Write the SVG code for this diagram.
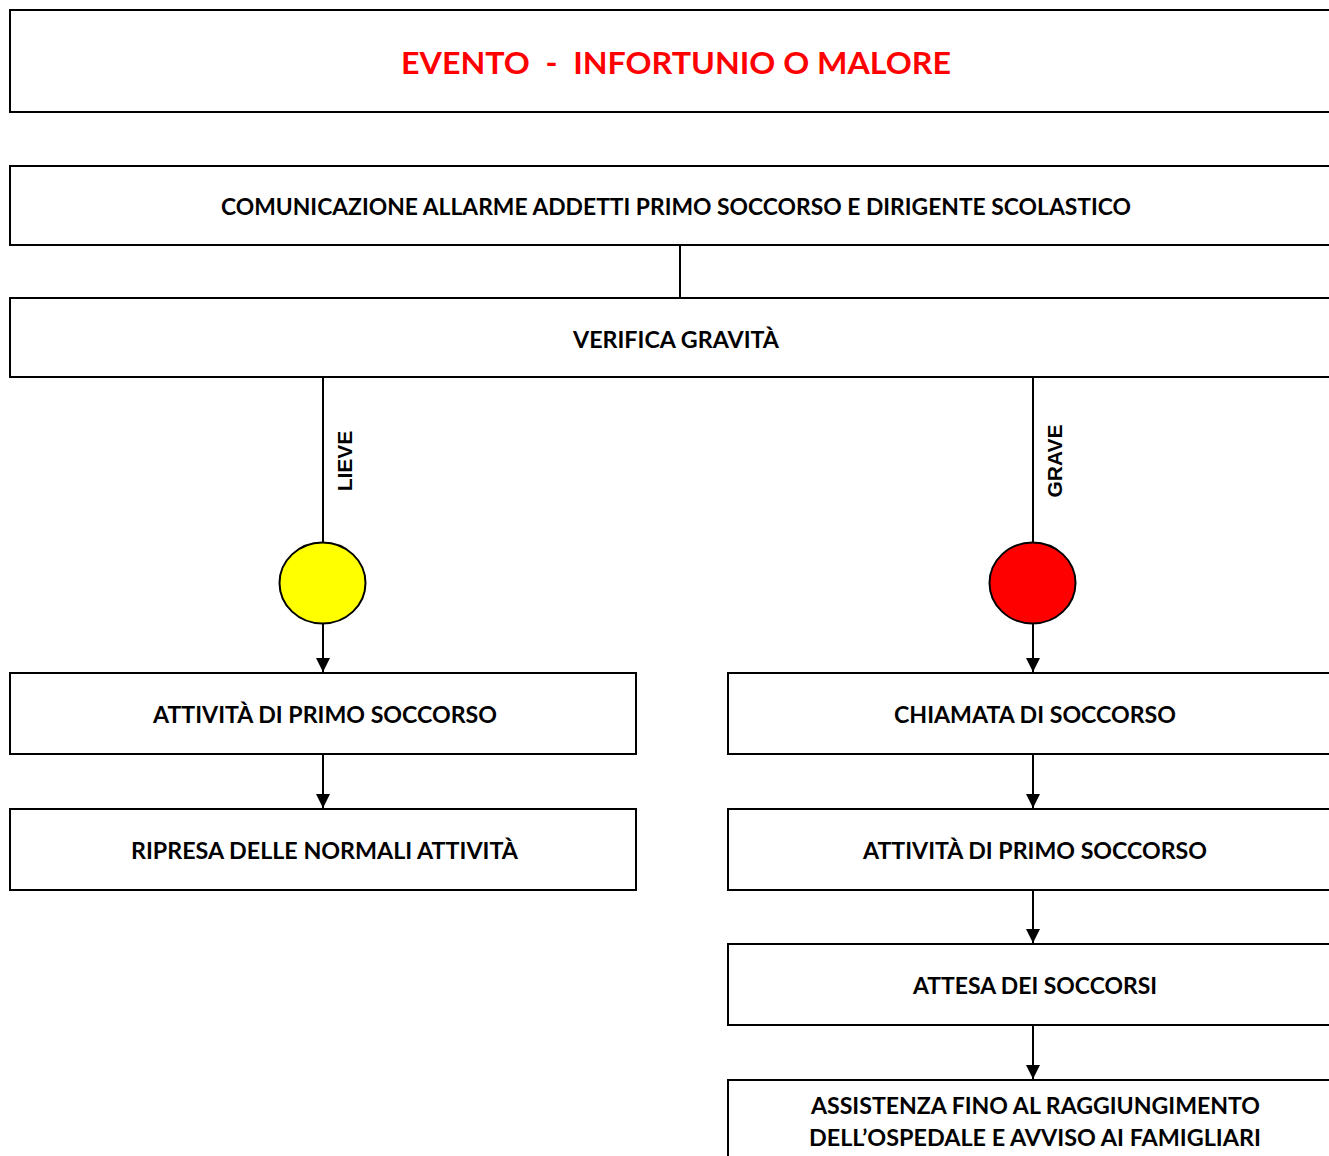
<svg xmlns="http://www.w3.org/2000/svg" width="1329" height="1156" viewBox="0 0 1329 1156">
<style>
.box{fill:#fff;stroke:#000;stroke-width:2}
.t{font-family:Lato,"Open Sans","Liberation Sans",sans-serif;font-weight:bold;font-size:22px;fill:#000;text-anchor:middle}
.title{font-size:31px;fill:#ff0000;white-space:pre}
.lbl{font-family:"Liberation Sans",Arial,sans-serif;font-weight:bold;font-size:21px;fill:#000;text-anchor:middle}
.ln{stroke:#000;stroke-width:2;fill:none}
</style>
<defs>
<marker id="arr" markerWidth="14" markerHeight="14" refX="14" refY="7" orient="auto" markerUnits="userSpaceOnUse">
<path d="M0,0 L14,7 L0,14 Z" fill="#000"/>
</marker>
</defs>
<g id="connectors">
<path class="ln" d="M680,245 V298"/>
<path class="ln" d="M323,377 V543"/>
<path class="ln" d="M323,624 V672" marker-end="url(#arr)"/>
<path class="ln" d="M323,754 V808" marker-end="url(#arr)"/>
<path class="ln" d="M1033,377 V543"/>
<path class="ln" d="M1033,624 V672" marker-end="url(#arr)"/>
<path class="ln" d="M1033,754 V808" marker-end="url(#arr)"/>
<path class="ln" d="M1033,890 V943" marker-end="url(#arr)"/>
<path class="ln" d="M1033,1025 V1079" marker-end="url(#arr)"/>
<text class="lbl" transform="translate(352,461) rotate(-90)">LIEVE</text>
<text class="lbl" transform="translate(1062,461) rotate(-90)">GRAVE</text>
</g>
<g id="evento">
<rect class="box" x="10" y="10" width="1340" height="102"/>
<text class="t title" xml:space="preserve" x="676" y="74" textLength="550" lengthAdjust="spacingAndGlyphs">EVENTO  -  INFORTUNIO O MALORE</text>
</g>
<g id="comunicazione">
<rect class="box" x="10" y="166" width="1340" height="79"/>
<text class="t" x="676" y="215" textLength="910" lengthAdjust="spacingAndGlyphs">COMUNICAZIONE ALLARME ADDETTI PRIMO SOCCORSO E DIRIGENTE SCOLASTICO</text>
</g>
<g id="verifica">
<rect class="box" x="10" y="298" width="1340" height="79"/>
<text class="t" x="676" y="348" textLength="206" lengthAdjust="spacingAndGlyphs">VERIFICA GRAVITÀ</text>
</g>
<g id="lieve-circle">
<ellipse cx="322.5" cy="583" rx="43" ry="40.5" fill="#ffff00" stroke="#000" stroke-width="2"/>
</g>
<g id="grave-circle">
<ellipse cx="1032.5" cy="583" rx="43" ry="40.5" fill="#ff0000" stroke="#000" stroke-width="2"/>
</g>
<g id="attivita-left">
<rect class="box" x="10" y="673" width="626" height="81"/>
<text class="t" x="325" y="723" textLength="344" lengthAdjust="spacingAndGlyphs">ATTIVITÀ DI PRIMO SOCCORSO</text>
</g>
<g id="ripresa">
<rect class="box" x="10" y="809" width="626" height="81"/>
<text class="t" x="324.5" y="859" textLength="387" lengthAdjust="spacingAndGlyphs">RIPRESA DELLE NORMALI ATTIVITÀ</text>
</g>
<g id="chiamata">
<rect class="box" x="728" y="673" width="622" height="81"/>
<text class="t" x="1035" y="723" textLength="282" lengthAdjust="spacingAndGlyphs">CHIAMATA DI SOCCORSO</text>
</g>
<g id="attivita-right">
<rect class="box" x="728" y="809" width="622" height="81"/>
<text class="t" x="1035" y="859" textLength="344" lengthAdjust="spacingAndGlyphs">ATTIVITÀ DI PRIMO SOCCORSO</text>
</g>
<g id="attesa">
<rect class="box" x="728" y="944" width="622" height="81"/>
<text class="t" x="1035" y="994" textLength="244" lengthAdjust="spacingAndGlyphs">ATTESA DEI SOCCORSI</text>
</g>
<g id="assistenza">
<rect class="box" x="728" y="1080" width="622" height="100"/>
<text class="t" x="1035.5" y="1114" textLength="449" lengthAdjust="spacingAndGlyphs">ASSISTENZA FINO AL RAGGIUNGIMENTO</text>
<text class="t" x="1035" y="1146" textLength="452" lengthAdjust="spacingAndGlyphs">DELL’OSPEDALE E AVVISO AI FAMIGLIARI</text>
</g>
</svg>
